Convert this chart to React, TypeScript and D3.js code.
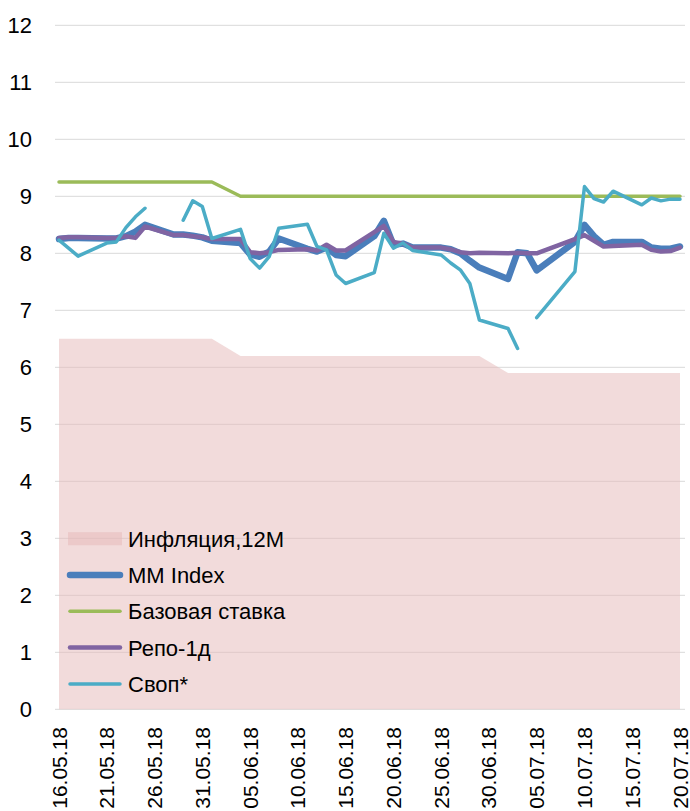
import { useEffect, useRef } from 'react';
import * as d3 from 'd3';

const dates = [
  '16.05.18', '17.05.18', '18.05.18', '21.05.18', '22.05.18', '23.05.18', '24.05.18', '25.05.18',
  '28.05.18', '29.05.18', '30.05.18', '31.05.18',
  '01.06.18', '04.06.18', '05.06.18', '06.06.18', '07.06.18', '08.06.18', '11.06.18', '12.06.18',
  '13.06.18', '14.06.18', '15.06.18', '18.06.18', '19.06.18', '20.06.18', '21.06.18', '22.06.18',
  '25.06.18', '26.06.18', '27.06.18', '28.06.18', '29.06.18',
  '02.07.18', '03.07.18', '04.07.18', '05.07.18', '09.07.18', '10.07.18', '11.07.18', '12.07.18',
  '13.07.18', '16.07.18', '17.07.18', '18.07.18', '19.07.18', '20.07.18',
];

const inflation = [
  6.5, 6.5, 6.5, 6.5, 6.5, 6.5, 6.5, 6.5, 6.5, 6.5, 6.5, 6.5,
  6.5, 6.2, 6.2, 6.2, 6.2, 6.2, 6.2, 6.2, 6.2, 6.2, 6.2, 6.2, 6.2, 6.2, 6.2, 6.2, 6.2, 6.2, 6.2, 6.2, 6.2,
  5.9, 5.9, 5.9, 5.9, 5.9, 5.9, 5.9, 5.9, 5.9, 5.9, 5.9, 5.9, 5.9, 5.9,
];

const mmIndex = [
  8.25, 8.27, 8.27, 8.26, 8.26, 8.3, 8.38, 8.5, 8.33, 8.33, 8.31, 8.28,
  8.22, 8.18, 7.98, 7.94, 8.03, 8.26, 8.08, 8.03, 8.1, 7.97, 7.95, 8.3, 8.57, 8.15, 8.17, 8.1, 8.1, 8.07, 8.0, 7.87, 7.75,
  7.55, 8.02, 8.0, 7.7, 8.2, 8.5, 8.3, 8.15, 8.2, 8.2, 8.1, 8.08, 8.08, 8.12,
];

const baseRate = [
  9.25, 9.25, 9.25, 9.25, 9.25, 9.25, 9.25, 9.25, 9.25, 9.25, 9.25, 9.25,
  9.25, 9.0, 9.0, 9.0, 9.0, 9.0, 9.0, 9.0, 9.0, 9.0, 9.0, 9.0, 9.0, 9.0, 9.0, 9.0, 9.0, 9.0, 9.0, 9.0, 9.0,
  9.0, 9.0, 9.0, 9.0, 9.0, 9.0, 9.0, 9.0, 9.0, 9.0, 9.0, 9.0, 9.0, 9.0,
];

const repo = [
  8.27, 8.28, 8.28, 8.27, 8.27, 8.3, 8.27, 8.47, 8.32, 8.32, 8.3, 8.28,
  8.25, 8.25, 8.02, 8.0, 8.02, 8.06, 8.07, 8.05, 8.15, 8.05, 8.05, 8.37, 8.48, 8.2, 8.17, 8.1, 8.1, 8.07, 8.02, 8.0, 8.01,
  8.0, 8.01, 8.0, 8.0, 8.25, 8.32, 8.22, 8.12, 8.13, 8.15, 8.06, 8.03, 8.04, 8.1,
];

const swap: (number | null)[] = [
  8.23, 8.09, 7.95, 8.18, 8.2, 8.45, 8.64, 8.79, null, 8.58, 8.92, 8.82,
  8.26, 8.42, 7.91, 7.74, 7.94, 8.44, 8.51, 8.12, 8.06, 7.62, 7.47, 7.66, 8.35, 8.09, 8.18, 8.05, 7.97, 7.83, 7.71, 7.47, 6.83,
  6.68, 6.33, null, 6.87, 7.68, 9.17, 8.96, 8.9, 9.09, 8.85, 8.97, 8.92, 8.95, 8.95,
];

const tickLabels = [
  '16.05.18', '21.05.18', '26.05.18', '31.05.18', '05.06.18', '10.06.18', '15.06.18',
  '20.06.18', '25.06.18', '30.06.18', '05.07.18', '10.07.18', '15.07.18', '20.07.18',
];

const yTicks = [0, 1, 2, 3, 4, 5, 6, 7, 8, 9, 10, 11, 12];

const legendItems = [
  { name: 'Инфляция,12M', color: '#E6B8B7', type: 'area', width: 0 },
  { name: 'MM Index', color: '#4A7EBB', type: 'line', width: 6.5 },
  { name: 'Базовая ставка', color: '#9BBB59', type: 'line', width: 3.5 },
  { name: 'Репо-1д', color: '#8064A2', type: 'line', width: 4.5 },
  { name: 'Своп*', color: '#4BACC6', type: 'line', width: 3.5 },
];

export default function App() {
  const ref = useRef<SVGSVGElement | null>(null);

  useEffect(() => {
    if (!ref.current) return;
    const svg = d3.select(ref.current);
    svg.selectAll('*').remove();

    const width = 690;
    const height = 811;
    const font = '"Liberation Sans", Arial, sans-serif';
    const parse = d3.timeParse('%d.%m.%y');
    const xs = dates.map(d => parse(d) as Date);

    const x = d3.scaleTime()
      .domain([parse('16.05.18') as Date, parse('20.07.18') as Date])
      .range([59, 680]);
    const y = d3.scaleLinear().domain([0, 12]).range([709.3, 25.3]);

    svg.attr('width', width).attr('height', height);

    // gridlines
    svg.append('g')
      .selectAll('line')
      .data(yTicks)
      .enter()
      .append('line')
      .attr('x1', 55)
      .attr('x2', 685)
      .attr('y1', d => y(d))
      .attr('y2', d => y(d))
      .attr('stroke', '#D9D9D9')
      .attr('stroke-width', 1);

    // y labels
    svg.append('g')
      .selectAll('text')
      .data(yTicks)
      .enter()
      .append('text')
      .attr('x', 32)
      .attr('y', d => y(d))
      .attr('dy', '0.36em')
      .attr('text-anchor', 'end')
      .attr('font-family', font)
      .attr('font-size', 22)
      .attr('fill', '#000')
      .text(d => d);

    // x labels
    svg.append('g')
      .selectAll('text')
      .data(tickLabels)
      .enter()
      .append('text')
      .attr('transform', d => `translate(${x(parse(d) as Date)},727) rotate(-90)`)
      .attr('dy', '0.36em')
      .attr('text-anchor', 'end')
      .attr('font-family', font)
      .attr('font-size', 21)
      .attr('fill', '#000')
      .text(d => d);

    const area = d3.area<number>()
      .x((_, i) => x(xs[i]))
      .y0(y(0))
      .y1(d => y(d));

    svg.append('path')
      .attr('d', area(inflation))
      .attr('fill', '#E6B8B7')
      .attr('fill-opacity', 0.5);

    const line = d3.line<number | null>()
      .defined(d => d != null)
      .x((_, i) => x(xs[i]))
      .y(d => y(d as number));

    const series: [(number | null)[], string, number][] = [
      [baseRate, '#9BBB59', 3.5],
      [mmIndex, '#4A7EBB', 6.5],
      [repo, '#8064A2', 4.5],
      [swap, '#4BACC6', 3.5],
    ];

    series.forEach(([vals, color, w]) => {
      svg.append('path')
        .attr('d', line(vals))
        .attr('fill', 'none')
        .attr('stroke', color)
        .attr('stroke-width', w)
        .attr('stroke-linejoin', 'round')
        .attr('stroke-linecap', 'round');
    });

    // legend
    const lg = svg.append('g');
    legendItems.forEach((item, i) => {
      const cy = 538.7 + i * 36.3;
      if (item.type === 'area') {
        lg.append('rect')
          .attr('x', 68)
          .attr('y', cy - 6.5)
          .attr('width', 54)
          .attr('height', 13)
          .attr('fill', item.color)
          .attr('fill-opacity', 0.5);
      } else {
        lg.append('line')
          .attr('x1', 70)
          .attr('x2', 120)
          .attr('y1', cy)
          .attr('y2', cy)
          .attr('stroke', item.color)
          .attr('stroke-width', item.width)
          .attr('stroke-linecap', 'round');
      }
      lg.append('text')
        .attr('x', 128)
        .attr('y', cy)
        .attr('dy', '0.36em')
        .attr('font-family', font)
        .attr('font-size', 22)
        .attr('fill', '#000')
        .text(item.name);
    });
  }, []);

  return (
    <div style={{ position: 'absolute', left: 0, top: 0 }}>
      <svg ref={ref}></svg>
    </div>
  );
}
